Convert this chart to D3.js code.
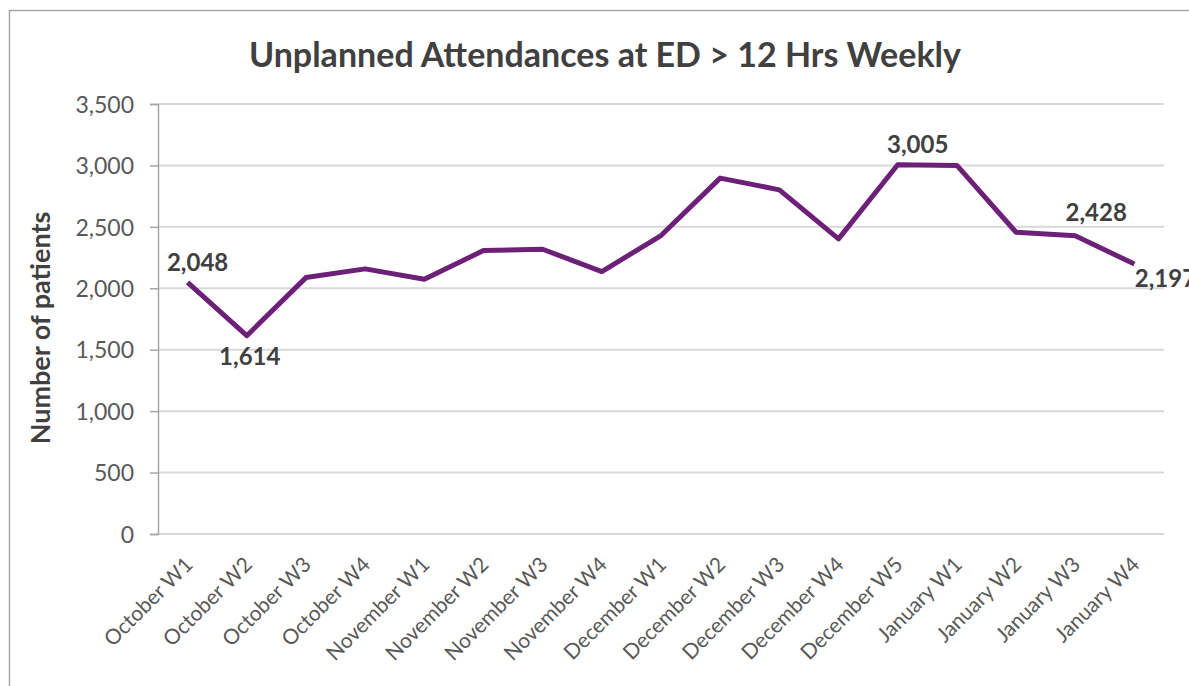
<!DOCTYPE html>
<html>
<head>
<meta charset="utf-8">
<script src="https://cdn.jsdelivr.net/npm/d3@7"></script>
<style>
  body { margin: 0; background: #fff; }
  svg { display: block; font-family: Lato, "Open Sans", sans-serif; }
</style>
</head>
<body>
<svg width="1189" height="686"></svg>
<script>
const weeks = [
  "October W1", "October W2", "October W3", "October W4",
  "November W1", "November W2", "November W3", "November W4",
  "December W1", "December W2", "December W3", "December W4", "December W5",
  "January W1", "January W2", "January W3", "January W4"
];
const patients = [2048, 1614, 2087, 2158, 2074, 2307, 2318, 2136, 2429, 2897, 2801, 2402, 3005, 3000, 2456, 2428, 2197];
const yTicks = [0, 500, 1000, 1500, 2000, 2500, 3000, 3500];
const labelled = ["October W1", "October W2", "December W5", "January W3", "January W4"];

const width = 1189;
const height = 686;
const margin = {top: 104, right: 25, bottom: 152, left: 158};

const svg = d3.select("svg");

// chart area border (runs off the right and bottom of the picture)
svg.append("rect")
  .attr("x", 9.5).attr("y", 10.5)
  .attr("width", 1200).attr("height", 700)
  .attr("fill", "none")
  .attr("stroke", "#a6a6a6")
  .attr("stroke-width", 1.5);

const x = d3.scalePoint()
  .domain(weeks)
  .range([margin.left, width - margin.right])
  .padding(0.5);

const y = d3.scaleLinear()
  .domain([0, 3500])
  .range([height - margin.bottom, margin.top]);

// gridlines
svg.append("g")
  .selectAll("line")
  .data(yTicks)
  .join("line")
  .attr("x1", margin.left)
  .attr("x2", width - margin.right)
  .attr("y1", d => y(d))
  .attr("y2", d => y(d))
  .attr("stroke", "#d9d9d9")
  .attr("stroke-width", 2);

// y axis
const yAxis = d3.axisLeft(y)
  .tickValues(yTicks)
  .tickFormat(d3.format(","))
  .tickSize(8)
  .tickPadding(16);

const yG = svg.append("g")
  .attr("transform", `translate(${margin.left},0)`)
  .call(yAxis)
  .attr("font-family", null)
  .attr("font-size", null);
yG.select(".domain").attr("stroke", "#a6a6a6").attr("stroke-width", 1.5);
yG.selectAll(".tick line").attr("stroke", "#a6a6a6").attr("stroke-width", 1.5);
yG.selectAll(".tick text")
  .attr("fill", "#595959")
  .style("font-size", "23px")
  .attr("dy", "0.36em");

// x axis labels
const xAxis = d3.axisBottom(x).tickSize(0).tickPadding(0);
const xG = svg.append("g")
  .attr("transform", `translate(0,${height - margin.bottom})`)
  .call(xAxis)
  .attr("font-family", null)
  .attr("font-size", null);
xG.select(".domain").remove();
xG.selectAll(".tick text")
  .attr("fill", "#595959")
  .style("font-size", "21px")
  .attr("text-anchor", "end")
  .attr("dy", 0)
  .attr("transform", "translate(6,32) rotate(-45)");

// line
svg.append("path")
  .datum(patients)
  .attr("fill", "none")
  .attr("stroke", "#6d2077")
  .attr("stroke-width", 5)
  .attr("stroke-linejoin", "round")
  .attr("d", d3.line()
    .x((d, i) => x(weeks[i]))
    .y(d => y(d)));

// data labels
const labelOffset = {
  "October W1": [10, -11],
  "October W2": [3, 29],
  "December W5": [20, -12],
  "January W3": [21, -15],
  "January W4": [31, 23]
};
svg.append("g")
  .selectAll("text")
  .data(labelled)
  .join("text")
  .attr("x", d => x(d) + labelOffset[d][0])
  .attr("y", d => y(patients[weeks.indexOf(d)]) + labelOffset[d][1])
  .attr("text-anchor", "middle")
  .attr("fill", "#404040")
  .style("font-size", "24px")
  .style("font-weight", "bold")
  .text(d => d3.format(",")(patients[weeks.indexOf(d)]));

// title
svg.append("text")
  .attr("x", 605)
  .attr("y", 67)
  .attr("text-anchor", "middle")
  .attr("fill", "#404040")
  .style("font-size", "34px")
  .style("font-weight", "bold")
  .text("Unplanned Attendances at ED > 12 Hrs Weekly");

// y axis title
svg.append("text")
  .attr("transform", "translate(50,328) rotate(-90)")
  .attr("text-anchor", "middle")
  .attr("fill", "#404040")
  .style("font-size", "27px")
  .style("font-weight", "bold")
  .text("Number of patients");
</script>
</body>
</html>
